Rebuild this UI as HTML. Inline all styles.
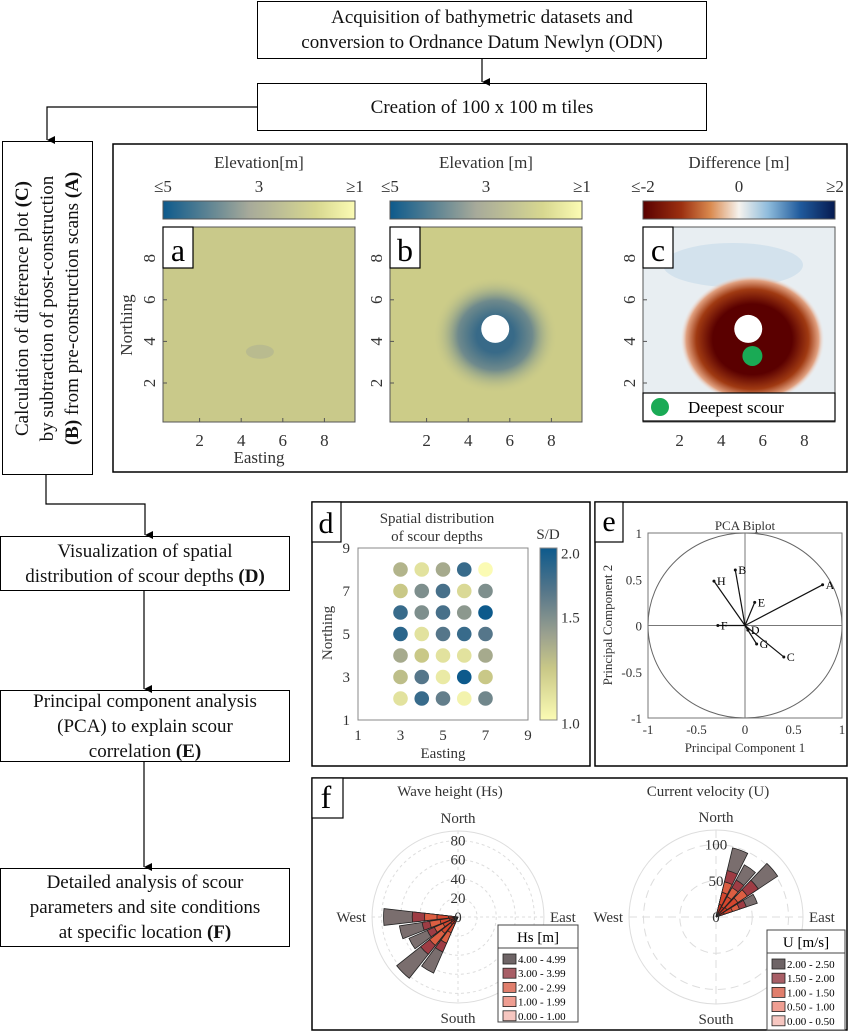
<!DOCTYPE html>
<html><head><meta charset="utf-8">
<style>
body{margin:0;width:849px;height:1032px;background:#fff;font-family:"Liberation Serif",serif;position:relative;overflow:hidden}
.box{position:absolute;border:1.5px solid #000;box-sizing:border-box;display:flex;align-items:center;justify-content:center;text-align:center;font-size:19px;line-height:25px;color:#111}
svg{position:absolute;left:0;top:0;font-family:"Liberation Serif",serif}
svg text{font-family:"Liberation Serif",serif}
</style></head><body>
<div class="box" style="left:257px;top:1px;width:450px;height:58px"><div>Acquisition of bathymetric datasets and<br>conversion to Ordnance Datum Newlyn (ODN)</div></div>
<div class="box" style="left:257px;top:83px;width:450px;height:48px"><div>Creation of 100 x 100 m tiles</div></div>
<div class="box" style="left:2px;top:141px;width:91px;height:334px;"><div style="transform:rotate(-90deg);white-space:nowrap;line-height:25px">Calculation of difference plot <b>(C)</b><br>by subtraction of post-construction<br><b>(B)</b> from pre-construction scans <b>(A)</b></div></div>
<div class="box" style="left:0px;top:536px;width:290px;height:55px"><div>Visualization of spatial<br>distribution of scour depths <b>(D)</b></div></div>
<div class="box" style="left:0px;top:690px;width:290px;height:72px"><div>Principal component analysis<br>(PCA) to explain scour<br>correlation <b>(E)</b></div></div>
<div class="box" style="left:0px;top:868px;width:290px;height:79px"><div>Detailed analysis of scour<br>parameters and site conditions<br>at specific location <b>(F)</b></div></div>

<svg id="main" width="849" height="1032" xmlns="http://www.w3.org/2000/svg">
<defs>
<marker id="ar" markerWidth="8" markerHeight="8" refX="4" refY="8" orient="auto-start-reverse" markerUnits="userSpaceOnUse"><path d="M0,0 L8,0 L4,8Z" fill="#000"/></marker>
<linearGradient id="elev" x1="0" x2="1"><stop offset="0" stop-color="#0d5a8c"/><stop offset="0.45" stop-color="#a7aa9a"/><stop offset="0.8" stop-color="#d8d890"/><stop offset="1" stop-color="#fbfbb4"/></linearGradient>
<linearGradient id="diff" x1="0" x2="1"><stop offset="0" stop-color="#5a0000"/><stop offset="0.2" stop-color="#9c3010"/><stop offset="0.35" stop-color="#d9894e"/><stop offset="0.5" stop-color="#f6f3ee"/><stop offset="0.65" stop-color="#8fbcdc"/><stop offset="0.82" stop-color="#1f5a9c"/><stop offset="1" stop-color="#061a50"/></linearGradient>
<linearGradient id="sdbar" x1="0" x2="0" y1="1" y2="0"><stop offset="0" stop-color="#fbfbb4"/><stop offset="0.3" stop-color="#c9c887"/><stop offset="0.5" stop-color="#9aa08f"/><stop offset="0.75" stop-color="#55768a"/><stop offset="1" stop-color="#0d5a8c"/></linearGradient>
<radialGradient id="scourB" cx="0.5" cy="0.5" r="0.5"><stop offset="0.3" stop-color="#386a88"/><stop offset="0.6" stop-color="#6f8a8c"/><stop offset="1" stop-color="#c8c888" stop-opacity="0"/></radialGradient>
<radialGradient id="scourC" cx="0.5" cy="0.5" r="0.5"><stop offset="0.55" stop-color="#5a0000"/><stop offset="0.78" stop-color="#a03a12"/><stop offset="0.92" stop-color="#e0a080"/><stop offset="1" stop-color="#f0e6e2" stop-opacity="0"/></radialGradient>
</defs>
<g stroke="#000" stroke-width="1.2" fill="none">
<line x1="482" y1="59" x2="482" y2="82" marker-end="url(#ar)"/>
<polyline points="257,107 47,107 47,140" marker-end="url(#ar)"/>
<polyline points="46,475 46,504 145,504 145,535" marker-end="url(#ar)"/>
<line x1="144" y1="591" x2="144" y2="689" marker-end="url(#ar)"/>
<line x1="144" y1="762" x2="144" y2="867" marker-end="url(#ar)"/>
</g>
<rect x="113" y="144" width="734" height="328" fill="none" stroke="#000" stroke-width="1.5"/>
<g id="maps"></g>
<rect x="312" y="502" width="278" height="264" fill="none" stroke="#000" stroke-width="1.5"/>
<g id="pd"></g>
<rect x="595" y="502" width="252" height="264" fill="none" stroke="#000" stroke-width="1.5"/>
<g id="pe"></g>
<rect x="312" y="778" width="535" height="252" fill="none" stroke="#000" stroke-width="1.5"/>
<g id="pf"></g>
</svg>
<script>
// ---------- data ----------
const mapTicks=[2,4,6,8];
const panelD_x=[3,4,5,6,7];
const panelD_y=[8,7,6,5,4,3,2];
const sdRow8=[1.4,1.15,1.45,1.85,1.0];
const sdRow7=[1.3,1.6,1.8,1.2,1.6];
const sdRow6=[1.85,1.6,1.8,1.55,2.0];
const sdRow5=[1.9,1.15,1.75,1.85,1.75];
const sdRow4=[1.45,1.3,1.15,1.15,1.45];
const sdRow3=[1.35,1.75,1.1,2.0,1.3];
const sdRow2=[1.15,1.85,1.7,1.05,1.65];
const dTicks=[1,3,5,7,9];
const pcaNames=['A','B','C','D','E','F','G','H'];
const pcaPC1=[0.8,-0.1,0.4,0.03,0.1,-0.28,0.12,-0.32];
const pcaPC2=[0.44,0.6,-0.34,-0.05,0.25,0,-0.2,0.48];
const pcaTicks=[-1,-0.5,0,0.5,1];
const waveDirs=[270,255,240,225,210];
const waveBin0=[10,9,8,10,8];
const waveBin1=[22,19,17,22,18];
const waveBin2=[35,30,27,38,30];
const waveBin3=[48,38,35,50,40];
const waveTotal=[78,62,56,82,64];
const curDirs=[20,35,50,65];
const curBin0=[18,16,18,12];
const curBin1=[35,32,36,24];
const curBin2=[50,46,52,34];
const curBin3=[66,58,70,44];
const curTotal=[98,82,102,60];
const waveRings=[20,40,60,80];
const curRings=[50,100];
const binColors=['#c8301e','#d4462e','#dc5e42','#9e3c44','#7a6e6e'];
const waveLegend=['4.00 - 4.99','3.00 - 3.99','2.00 - 2.99','1.00 - 1.99','0.00 - 1.00'];
const curLegend=['2.00 - 2.50','1.50 - 2.00','1.00 - 1.50','0.50 - 1.00','0.00 - 0.50'];
const legColors=['#6e6466','#a85e66','#e07e6c','#ef9e92','#f6c6c0'];

const NS='http://www.w3.org/2000/svg';
function mk(parent,tag,attrs,txt){const e=document.createElementNS(NS,tag);for(const k in attrs)e.setAttribute(k,attrs[k]);if(txt!==undefined)e.textContent=txt;parent.appendChild(e);return e;}

// ---------- maps a,b,c ----------
const maps=document.getElementById('maps');
const mapX0=[158,385,638];
const plotL=[163,390,643];
const mx=(i,v)=>mapX0[i]+20.8*v;
const my=v=>424.6-20.8*v;
const cbTitles=['Elevation[m]','Elevation [m]','Difference [m]'];
const cbTicks=[['≤5','3','≥1'],['≤5','3','≥1'],['≤-2','0','≥2']];
const letters=['a','b','c'];
for(let i=0;i<3;i++){
  const L=plotL[i],W=192;
  let t=mk(maps,'text',{x:L+W/2,y:168,'text-anchor':'middle','font-size':17,fill:'#333'},cbTitles[i]);
  
  cbTicks[i].forEach((s,j)=>{const e=mk(maps,'text',{x:L+j*W/2,y:192,'text-anchor':'middle','font-size':17,fill:'#333'},s);});
  const cb=mk(maps,'rect',{x:L,y:201,width:W,height:18,fill:i<2?'url(#elev)':'url(#diff)',stroke:'#555','stroke-width':1});
  
  const bg=['#c9c98a','#cccc88','#e8eef2'][i];
  const pr=mk(maps,'rect',{x:L,y:227,width:W,height:195,fill:bg,stroke:'#555','stroke-width':1});
  
  if(i===0){mk(maps,'ellipse',{cx:mx(0,4.9),cy:my(3.5),rx:14,ry:7,fill:'#a9ae93',opacity:0.5});}
  if(i===1){const s=mk(maps,'ellipse',{cx:mx(1,5.3),cy:my(4.3),rx:62,ry:58,fill:'url(#scourB)'});}
  if(i===2){
    mk(maps,'ellipse',{cx:L+90,cy:265,rx:70,ry:22,fill:'#c4dbea',opacity:0.6});
    const s=mk(maps,'ellipse',{cx:mx(2,5.5),cy:my(4.1),rx:72,ry:64,fill:'url(#scourC)'});}
  if(i>0){const p=mk(maps,'circle',{cx:mx(i,5.3),cy:my(4.6),r:14,fill:'#fff'});}
  mapTicks.forEach(v=>{
    const a=mk(maps,'text',{x:mx(i,v),y:446,'text-anchor':'middle','font-size':17,fill:'#333'},v);
    const b=mk(maps,'text',{x:L-12,y:my(v),'text-anchor':'middle','font-size':17,fill:'#333',transform:`rotate(-90 ${L-12} ${my(v)})`,'dominant-baseline':'middle'},v);
    mk(maps,'line',{x1:mx(i,v),x2:mx(i,v),y1:422,y2:418,stroke:'#555'});
    mk(maps,'line',{x1:L,x2:L+4,y1:my(v),y2:my(v),stroke:'#555'});
  });
  const lb=mk(maps,'rect',{x:L,y:227,width:30,height:41,fill:'#fff',stroke:'#000','stroke-width':1.2});
  
  const lt=mk(maps,'text',{x:L+15,y:261,'text-anchor':'middle','font-size':32},letters[i]);
}
{const g=mk(maps,'circle',{cx:mx(2,5.5),cy:my(3.3),r:10,fill:'#1aaa55'});
const lg=mk(maps,'rect',{x:643,y:393,width:192,height:28,fill:'#fff',stroke:'#000','stroke-width':1.2});
mk(maps,'circle',{cx:660,cy:407,r:9,fill:'#1aaa55'});
const lt=mk(maps,'text',{x:688,y:413,'font-size':17},'Deepest scour');
const nt=mk(maps,'text',{x:132,y:325,'text-anchor':'middle','font-size':17,fill:'#333',transform:'rotate(-90 132 325)'},'Northing');
const et=mk(maps,'text',{x:259,y:463,'text-anchor':'middle','font-size':17,fill:'#333'},'Easting');}

// ---------- panel d ----------
const pd=document.getElementById('pd');
const dx=v=>358+(v-1)*21.25, dy=v=>720-(v-1)*21.5;
function sdColor(v){const t=(v-1);const stops=[[0,[251,251,180]],[0.3,[201,200,135]],[0.5,[154,160,143]],[0.75,[85,118,138]],[1,[13,90,140]]];
 for(let k=1;k<stops.length;k++){if(t<=stops[k][0]){const a=stops[k-1],b=stops[k];const f=(t-a[0])/(b[0]-a[0]);return 'rgb('+a[1].map((c,j)=>Math.round(c+(b[1][j]-c)*f)).join(',')+')';}}return 'rgb(13,90,140)';}
{let e=mk(pd,'text',{x:437,y:523,'text-anchor':'middle','font-size':15,fill:'#333'},'Spatial distribution');
e=mk(pd,'text',{x:437,y:541,'text-anchor':'middle','font-size':15,fill:'#333'},'of scour depths');
e=mk(pd,'rect',{x:358,y:548,width:170,height:172,fill:'#fff',stroke:'#888'});
e=mk(pd,'rect',{x:540,y:548,width:17,height:172,fill:'url(#sdbar)',stroke:'#888'});
e=mk(pd,'text',{x:548,y:539,'text-anchor':'middle','font-size':15,fill:'#333'},'S/D');
[[2.0,553],[1.5,617],[1.0,723]].forEach(([v,y])=>{const t=mk(pd,'text',{x:561,y:y+2,'font-size':15,fill:'#333','dominant-baseline':'middle'},v.toFixed(1));});
dTicks.forEach(v=>{let t=mk(pd,'text',{x:dx(v),y:740,'text-anchor':'middle','font-size':15,fill:'#333'},v);
 t=mk(pd,'text',{x:350,y:dy(v)+5,'text-anchor':'end','font-size':15,fill:'#333'},v);});
e=mk(pd,'text',{x:443,y:758,'text-anchor':'middle','font-size':15,fill:'#333'},'Easting');
e=mk(pd,'text',{x:332,y:633,'text-anchor':'middle','font-size':15,fill:'#333',transform:'rotate(-90 332 633)'},'Northing');
const rows=[sdRow8,sdRow7,sdRow6,sdRow5,sdRow4,sdRow3,sdRow2];
rows.forEach((row,r)=>row.forEach((v,c)=>{const p=mk(pd,'circle',{cx:dx(panelD_x[c]),cy:dy(panelD_y[r]),r:7.3,fill:sdColor(v)});}));
e=mk(pd,'rect',{x:312,y:502,width:29,height:40,fill:'#fff',stroke:'#000','stroke-width':1.2});
e=mk(pd,'text',{x:326,y:533,'text-anchor':'middle','font-size':30},'d');}

// ---------- panel e ----------
const pe=document.getElementById('pe');
const ex=v=>745+v*97, ey=v=>625.5-v*92.5;
{let e=mk(pe,'rect',{x:648,y:533,width:194,height:185,fill:'#fff',stroke:'#777'});
e=mk(pe,'ellipse',{cx:ex(0),cy:ey(0),rx:97,ry:92.5,fill:'none',stroke:'#666'});
mk(pe,'line',{x1:648,x2:842,y1:ey(0),y2:ey(0),stroke:'#777'});mk(pe,'line',{x1:ex(0),x2:ex(0),y1:533,y2:718,stroke:'#777'});
e=mk(pe,'text',{x:745,y:530,'text-anchor':'middle','font-size':13,fill:'#333'},'PCA Biplot');
pcaTicks.forEach(v=>{let t=mk(pe,'text',{x:ex(v),y:734,'text-anchor':'middle','font-size':13,fill:'#333'},v);
 t=mk(pe,'text',{x:642,y:ey(v)+5,'text-anchor':'end','font-size':13,fill:'#333'},v);});
e=mk(pe,'text',{x:745,y:752,'text-anchor':'middle','font-size':13,fill:'#333'},'Principal Component 1');
e=mk(pe,'text',{x:612,y:625,'text-anchor':'middle','font-size':13,fill:'#333',transform:'rotate(-90 612 625)'},'Principal Component 2');
pcaNames.forEach((n,i)=>{const l=mk(pe,'line',{x1:ex(0),y1:ey(0),x2:ex(pcaPC1[i]),y2:ey(pcaPC2[i]),stroke:'#111','stroke-width':1.2});
 mk(pe,'circle',{cx:ex(pcaPC1[i]),cy:ey(pcaPC2[i]),r:1.5,fill:'#111'});
 const t=mk(pe,'text',{x:ex(pcaPC1[i])+3,y:ey(pcaPC2[i])+4,'font-size':12},n);});
e=mk(pe,'rect',{x:595,y:502,width:28,height:40,fill:'#fff',stroke:'#000','stroke-width':1.2});
e=mk(pe,'text',{x:609,y:531,'text-anchor':'middle','font-size':30},'e');}

// ---------- panel f ----------
const pf=document.getElementById('pf');
function sector(g,cx,cy,k,deg,r0,r1,col,name){const w=6.5;const a0=(deg-w-90)*Math.PI/180,a1=(deg+w-90)*Math.PI/180;
 const p=(r,a)=>(cx+r*k*Math.cos(a)).toFixed(1)+','+(cy+r*k*Math.sin(a)).toFixed(1);
 const e=mk(g,'path',{d:`M${p(r0,a0)} L${p(r1,a0)} A${r1*k},${r1*k} 0 0 1 ${p(r1,a1)} L${p(r0,a1)} A${r0*k},${r0*k} 0 0 0 ${p(r0,a0)}Z`,fill:col,stroke:'#222','stroke-width':0.8});
 }
function rose(cx,cy,k,outer,rings,dirs,bins,title,legT,legL,lx,ly,ringDash,W,H){
 let e=mk(pf,'circle',{cx,cy,r:outer*k,fill:'none',stroke:'#ddd'});
 rings.forEach(r=>{mk(pf,'circle',{cx,cy,r:r*k,fill:'none',stroke:'#ddd','stroke-dasharray':ringDash});});
 mk(pf,'line',{x1:cx-outer*k,x2:cx+outer*k,y1:cy,y2:cy,stroke:'#ddd','stroke-dasharray':ringDash});
 mk(pf,'line',{y1:cy-outer*k,y2:cy+outer*k,x1:cx,x2:cx,stroke:'#ddd','stroke-dasharray':ringDash});
 dirs.forEach((d,i)=>{for(let b=4;b>=0;b--){sector(pf,cx,cy,k,d,0,bins[b][i],binColors[b],'rose-bar-'+d+'-bin'+b);}});
 [0,...rings].forEach(r=>{const t=mk(pf,'text',{x:cx,y:cy-r*k+5,'text-anchor':'middle','font-size':15,fill:'#333'},r);});
 e=mk(pf,'text',{x:cx,y:cy-outer*k-8,'text-anchor':'middle','font-size':15,fill:'#333'},'North');
 e=mk(pf,'text',{x:cx,y:cy+outer*k+20,'text-anchor':'middle','font-size':15,fill:'#333'},'South');
 e=mk(pf,'text',{x:cx-outer*k-6,y:cy+5,'text-anchor':'end','font-size':15,fill:'#333'},'West');
 e=mk(pf,'text',{x:cx+outer*k+6,y:cy+5,'font-size':15,fill:'#333'},'East');
 e=mk(pf,'text',{x:cx-8,y:796,'text-anchor':'middle','font-size':15,fill:'#333'},title);
 e=mk(pf,'rect',{x:lx,y:ly,width:W,height:H,fill:'#fff',stroke:'#444'});
 mk(pf,'line',{x1:lx,x2:lx+W,y1:ly+23,y2:ly+23,stroke:'#444'});
 e=mk(pf,'text',{x:lx+W/2,y:ly+17,'text-anchor':'middle','font-size':15},legT);
 legL.forEach((s,i)=>{const y=ly+29+i*14.2;mk(pf,'rect',{x:lx+5,y,width:13,height:10,fill:legColors[i],stroke:'#222','stroke-width':0.8});
  const t=mk(pf,'text',{x:lx+20,y:y+9,'font-size':11},s);});
}
rose(458,917,0.955,90,waveRings,waveDirs,[waveBin0,waveBin1,waveBin2,waveBin3,waveTotal],'Wave height (Hs)','Hs [m]',waveLegend,498,925,'3,3',80,97);
rose(716,917,0.725,120,curRings,curDirs,[curBin0,curBin1,curBin2,curBin3,curTotal],'Current velocity (U)','U [m/s]',curLegend,767,930,'8,5',78,100);
{let e=mk(pf,'rect',{x:312,y:778,width:31,height:40,fill:'#fff',stroke:'#000','stroke-width':1.2});
e=mk(pf,'text',{x:326,y:808,'text-anchor':'middle','font-size':32},'f');}
</script>
</body></html>
